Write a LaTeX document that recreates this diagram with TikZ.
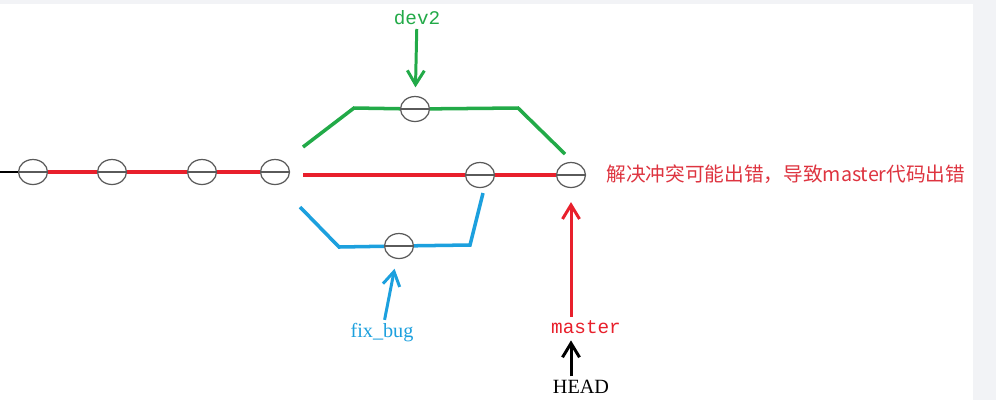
\documentclass[tikz,border=0pt]{standalone}
\usepackage{fontspec}
\setmainfont{Liberation Serif}
\setmonofont{Liberation Mono}
\newfontfamily\cjk{Noto Sans CJK SC}
\usepackage{tikz}
\usetikzlibrary{arrows.meta,shapes.geometric}
\definecolor{mred}{RGB}{232,32,44}
\definecolor{dgreen}{RGB}{34,170,72}
\definecolor{fblue}{RGB}{28,160,222}
\definecolor{notered}{RGB}{222,52,64}
\definecolor{panel}{RGB}{242,243,246}
\definecolor{ring}{RGB}{90,90,90}
\tikzset{
  commit/.style ={draw=ring, ellipse, line width=0.7pt, minimum width=0.58cm, minimum height=0.5cm, inner sep=0pt,
                  path picture={\draw[line width=0.6pt] (path picture bounding box.west) -- (path picture bounding box.east);}},
  branch/.style ={line width=2pt},
  tip/.style    ={-{Straight Barb[length=2.8mm, width=3.4mm]}, line width=1.7pt},
  lbl/.style    ={font=\ttfamily\fontsize{11}{13}\selectfont, inner sep=2pt},
  note/.style   ={font=\cjk\fontsize{11.2}{13}\selectfont, text=notered, inner sep=0pt, anchor=west}
}

\begin{document}
\begin{tikzpicture}[x=0.02cm, y=-0.02cm]
  \useasboundingbox (0,0) rectangle (996,400);
  \fill[panel] (0,0) rectangle (996,400);
  \fill[white] (0,4) rectangle (973,400);
  \node[commit] (m1) at (33,172)  {};
  \node[commit] (m2) at (112,172) {};
  \node[commit] (m3) at (202,172) {};
  \node[commit] (m4) at (275,172) {};
  \node[commit] (m5) at (480,175) {};
  \node[commit] (m6) at (571,175) {};
  \node[commit] (d1) at (415,109) {};
  \node[commit] (f1) at (399,246) {};
  \coordinate (s0) at (0,172);
  \coordinate (r0) at (303,175);
  \coordinate (g0) at (303,147); \coordinate (g1) at (354,108);
  \coordinate (g2) at (518,108); \coordinate (g3) at (565,154);
  \coordinate (b0) at (300,207); \coordinate (b1) at (339,247);
  \coordinate (b2) at (470,245); \coordinate (b3) at (483,193);
  \node[lbl, text=dgreen] (dev2) at (417,18) {dev2};
  \node[font=\fontsize{11.5}{13}\selectfont, text=fblue, inner sep=2pt] (fix) at (382,333) {fix\_bug};
  \node[lbl, text=mred] (master) at (586,327) {master};
  \node[font=\fontsize{11.5}{13}\selectfont, inner sep=2pt] (head) at (581,387) {HEAD};
  \node[note] (warn) at (606,174) {解决冲突可能出错，导致master代码出错};
  \draw[line width=0.8pt] (s0) -- (m1);
  \draw[branch, mred] (m1) -- (m2); \draw[branch, mred] (m2) -- (m3); \draw[branch, mred] (m3) -- (m4);
  \draw[branch, mred] (r0) -- (m5); \draw[branch, mred] (m5) -- (m6);
  \draw[branch, dgreen] (g0) -- (g1) -- (d1) -- (g2) -- (g3);
  \draw[branch, fblue] (b0) -- (b1) -- (f1) -- (b2) -- (b3);
  \draw[tip, dgreen, shorten >=0.17cm] (dev2) -- (d1);
  \draw[tip, fblue, shorten >=0.2cm] (fix) -- (f1);
  \draw[tip, mred, shorten >=0.28cm] (master.north -| m6) -- (m6);
  \draw[tip, shorten >=0.06cm] (head.north -| m6) -- (master.south -| m6);
\end{tikzpicture}
\end{document}
